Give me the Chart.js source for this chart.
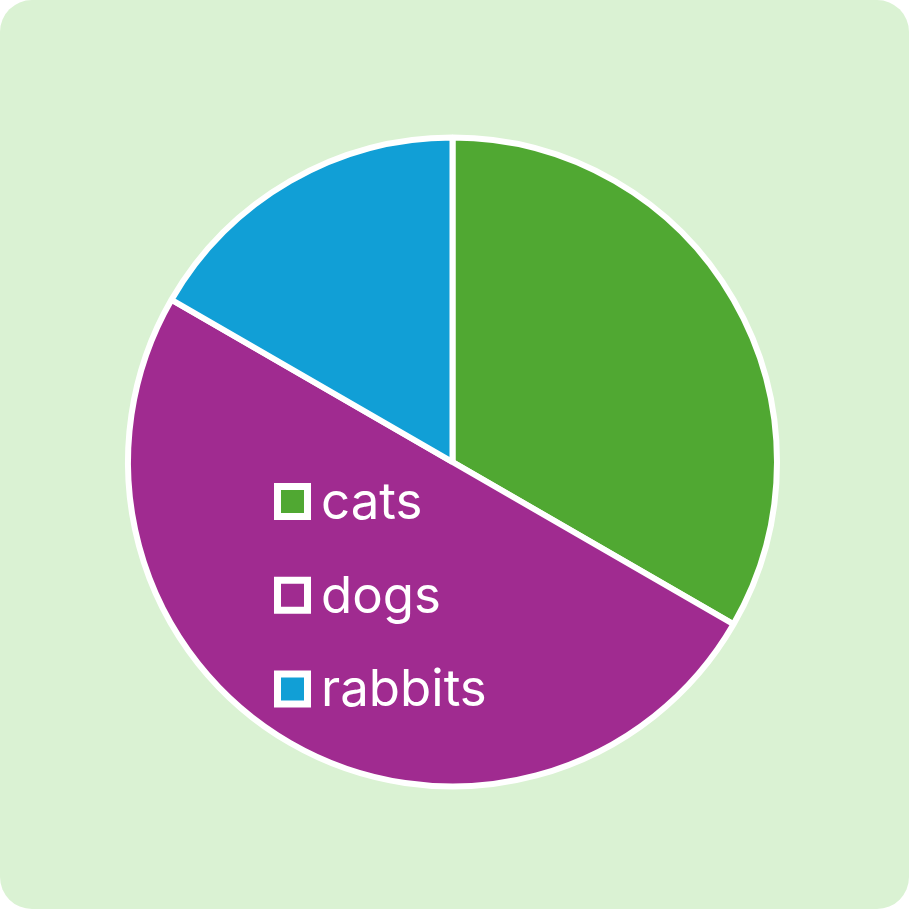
<!DOCTYPE html>
<html>
<head>
<meta charset="utf-8">
<script src="https://cdn.jsdelivr.net/npm/chart.js@4"></script>
<style>
  html, body { margin: 0; padding: 0; background: #ffffff; }
  #wrap { position: relative; width: 909px; height: 909px; background: #daf2d3; border-radius: 32px; overflow: hidden; }
  canvas { display: block; }
</style>
</head>
<body>
<div id="wrap"><canvas id="c" width="909" height="909"></canvas></div>
<script>
const categories = ['cats', 'dogs', 'rabbits'];
const values = [2, 3, 1];
const colors = ['#50a832', '#a02b90', '#119fd6'];

const insideLegend = {
  id: 'insideLegend',
  afterDraw(chart, args, opts) {
    const ctx = chart.ctx;
    const ds = chart.data.datasets[0];
    ctx.save();
    ctx.font = opts.fontSize + 'px ' + opts.fontFamily;
    ctx.textBaseline = 'middle';
    ctx.textAlign = 'left';
    chart.data.labels.forEach((label, i) => {
      const cy = opts.top + i * opts.step;
      ctx.fillStyle = ds.backgroundColor[i];
      ctx.strokeStyle = '#ffffff';
      ctx.lineWidth = opts.boxLine;
      ctx.beginPath();
      ctx.rect(opts.left, cy - opts.box / 2, opts.box, opts.box);
      ctx.fill();
      ctx.stroke();
      ctx.fillStyle = '#ffffff';
      ctx.fillText(label, opts.textX, cy + opts.textDy);
    });
    ctx.restore();
  }
};

new Chart(document.getElementById('c'), {
  type: 'pie',
  data: {
    labels: categories,
    datasets: [{
      data: values,
      backgroundColor: colors,
      borderColor: '#ffffff',
      borderWidth: 6
    }]
  },
  options: {
    responsive: false,
    animation: false,
    layout: { padding: { left: 125, right: 129, top: 134, bottom: 119 } },
    plugins: {
      legend: { display: false },
      tooltip: { enabled: false },
      insideLegend: {
        left: 277.5, top: 501.5, step: 93.7, box: 30, boxLine: 7,
        textX: 321, textDy: 2, fontSize: 51, fontFamily: 'Inter'
      }
    }
  },
  plugins: [insideLegend]
});
</script>
</body>
</html>
